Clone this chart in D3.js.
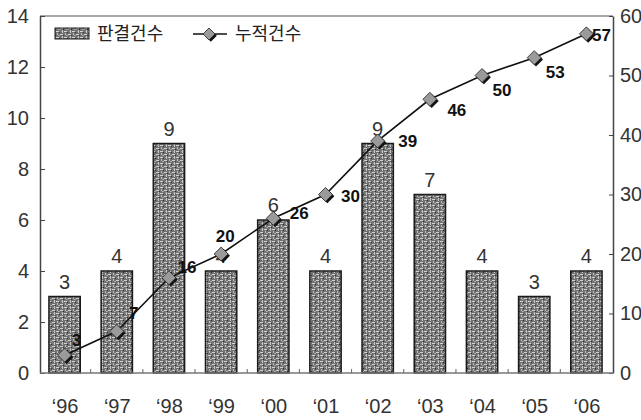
<!DOCTYPE html>
<html><head><meta charset="utf-8">
<script src="https://cdn.jsdelivr.net/npm/d3@7/dist/d3.min.js"></script>
<style>
html,body{margin:0;padding:0;background:#fff;}
svg{display:block;}
</style></head>
<body>
<svg id="chart" width="641" height="420"></svg>
<script>
// ---- data ----
const years = ["‘96","‘97","‘98","‘99","‘00","‘01","‘02","‘03","‘04","‘05","‘06"];
const rulings = [3,4,9,4,6,4,9,7,4,3,4];            // 판결건수 (left axis)
const cumulative = [3,7,16,20,26,30,39,46,50,53,57]; // 누적건수 (right axis)
const leftTicks = [0,2,4,6,8,10,12,14];
const rightTicks = [0,10,20,30,40,50,60];
const seriesNames = ["판결건수","누적건수"];

// ---- styling / layout (not data) ----
const labelOffsets = [[12,-15],[17,-18],[18,-10],[4,-18],[26,-5],[25,2],[30,1],[27,11],[20,15],[21,15],[15,2]];
const W=641,H=420, L=40, R=613, T=16, B=373;
const svg=d3.select("#chart");
const font="'Liberation Sans', Arial, sans-serif";

const x=d3.scalePoint().domain(years).range([38.5,612.5]).padding(0.5);
const step=x.step(), bw=step*0.6;
const yL=d3.scaleLinear().domain([0,14]).range([B,T]);
const yR=d3.scaleLinear().domain([0,60]).range([B,T]);

// texture pattern
const defs=svg.append("defs");
const pat=defs.append("pattern").attr("id","tex").attr("patternUnits","userSpaceOnUse")
  .attr("width",8).attr("height",6);
pat.append("rect").attr("width",8).attr("height",6).attr("fill","#707070");
[[0,1,3,1,"#d4d4d4"],[4,4,3,1,"#cfcfcf"],[1,3,1,2,"#bdbdbd"],[6,0,1,3,"#c4c4c4"],
 [3,2,1,1,"#2e2e2e"],[7,5,1,1,"#303030"],[5,1,1,1,"#9a9a9a"],[2,5,2,1,"#a8a8a8"]]
 .forEach(r=>pat.append("rect").attr("x",r[0]).attr("y",r[1]).attr("width",r[2]).attr("height",r[3]).attr("fill",r[4]));

// frame
svg.append("line").attr("x1",L).attr("x2",R).attr("y1",T).attr("y2",T).attr("stroke","#555").attr("stroke-width",1);

// bars
svg.append("g").selectAll("rect").data(rulings).join("rect")
  .attr("x",(d,i)=>x(years[i])-bw/2).attr("width",bw)
  .attr("y",d=>yL(d)).attr("height",d=>B-yL(d))
  .attr("fill","url(#tex)").attr("stroke","#1a1a1a").attr("stroke-width",1.5);

// bar value labels
svg.append("g").selectAll("text").data(rulings).join("text")
  .attr("x",(d,i)=>x(years[i])).attr("y",d=>yL(d)-8)
  .attr("text-anchor","middle").attr("font-family",font).attr("font-size",20).attr("fill","#333")
  .text(d=>d);

// left axis
const gL=svg.append("g").attr("transform",`translate(${L},0)`)
  .call(d3.axisLeft(yL).tickValues(leftTicks).tickSize(-5).tickPadding(11).tickSizeOuter(0));
gL.select(".domain").attr("stroke","#444").attr("stroke-width",1.5);
gL.selectAll(".tick line").attr("stroke","#444");
gL.selectAll(".tick text").attr("font-family",font).attr("font-size",20).attr("fill","#333");

// right axis
const gR=svg.append("g").attr("transform",`translate(${R},0)`)
  .call(d3.axisRight(yR).tickValues(rightTicks).tickSize(-4).tickPadding(7).tickSizeOuter(0));
gR.select(".domain").attr("stroke","#444").attr("stroke-width",1.5);
gR.selectAll(".tick line").attr("stroke","#444");
gR.selectAll(".tick text").attr("font-family",font).attr("font-size",20).attr("fill","#333");

// bottom axis
const gB=svg.append("g").attr("transform",`translate(0,${B})`)
  .call(d3.axisBottom(x).tickSize(0).tickPadding(26));
gB.select(".domain").remove();
svg.append("line").attr("x1",L).attr("x2",R).attr("y1",B).attr("y2",B).attr("stroke","#777").attr("stroke-width",1.5);
gB.selectAll(".tick text").attr("font-family",font).attr("font-size",20).attr("fill","#333");
// category separators
svg.append("g").selectAll("line").data(years.slice(1)).join("line")
  .attr("x1",d=>x(d)-step/2).attr("x2",d=>x(d)-step/2).attr("y1",B).attr("y2",B-4)
  .attr("stroke","#666");

// line
const pts=cumulative.map((v,i)=>[x(years[i]),yR(v)]);
svg.append("path").attr("d",d3.line()(pts)).attr("fill","none").attr("stroke","#111").attr("stroke-width",1.6);

function diamond(g,cx,cy,s){
  g.append("path").attr("d",`M${cx+1.8},${cy-s+1.8}L${cx+s+1.8},${cy+1.8}L${cx+1.8},${cy+s+1.8}L${cx-s+1.8},${cy+1.8}Z`).attr("fill","#111");
  g.append("path").attr("d",`M${cx},${cy-s}L${cx+s},${cy}L${cx},${cy+s}L${cx-s},${cy}Z`).attr("fill","#9a9a9a").attr("stroke","#222").attr("stroke-width",0.8);
}
const gm=svg.append("g");
pts.forEach(p=>diamond(gm,p[0],p[1],7));

// cumulative labels
svg.append("g").selectAll("text").data(cumulative).join("text")
  .attr("x",(d,i)=>pts[i][0]+labelOffsets[i][0]).attr("y",(d,i)=>pts[i][1]+labelOffsets[i][1])
  .attr("text-anchor","middle").attr("dominant-baseline","central")
  .attr("font-family",font).attr("font-size",17).attr("font-weight","bold").attr("fill","#111")
  .text(d=>d);

// legend
const lg=svg.append("g");
lg.append("rect").attr("x",55).attr("y",28).attr("width",34).attr("height",11)
  .attr("fill","url(#tex)").attr("stroke","#1a1a1a").attr("stroke-width",1);
lg.append("text").attr("x",97).attr("y",40).attr("font-family","'Noto Sans CJK KR', sans-serif")
  .attr("font-size",18).attr("fill","#222").text(seriesNames[0]);
lg.append("line").attr("x1",193).attr("x2",227).attr("y1",34).attr("y2",34).attr("stroke","#111").attr("stroke-width",1.6);
diamond(lg,209,34,6);
lg.append("text").attr("x",235).attr("y",40).attr("font-family","'Noto Sans CJK KR', sans-serif")
  .attr("font-size",18).attr("fill","#222").text(seriesNames[1]);
</script>
</body></html>
